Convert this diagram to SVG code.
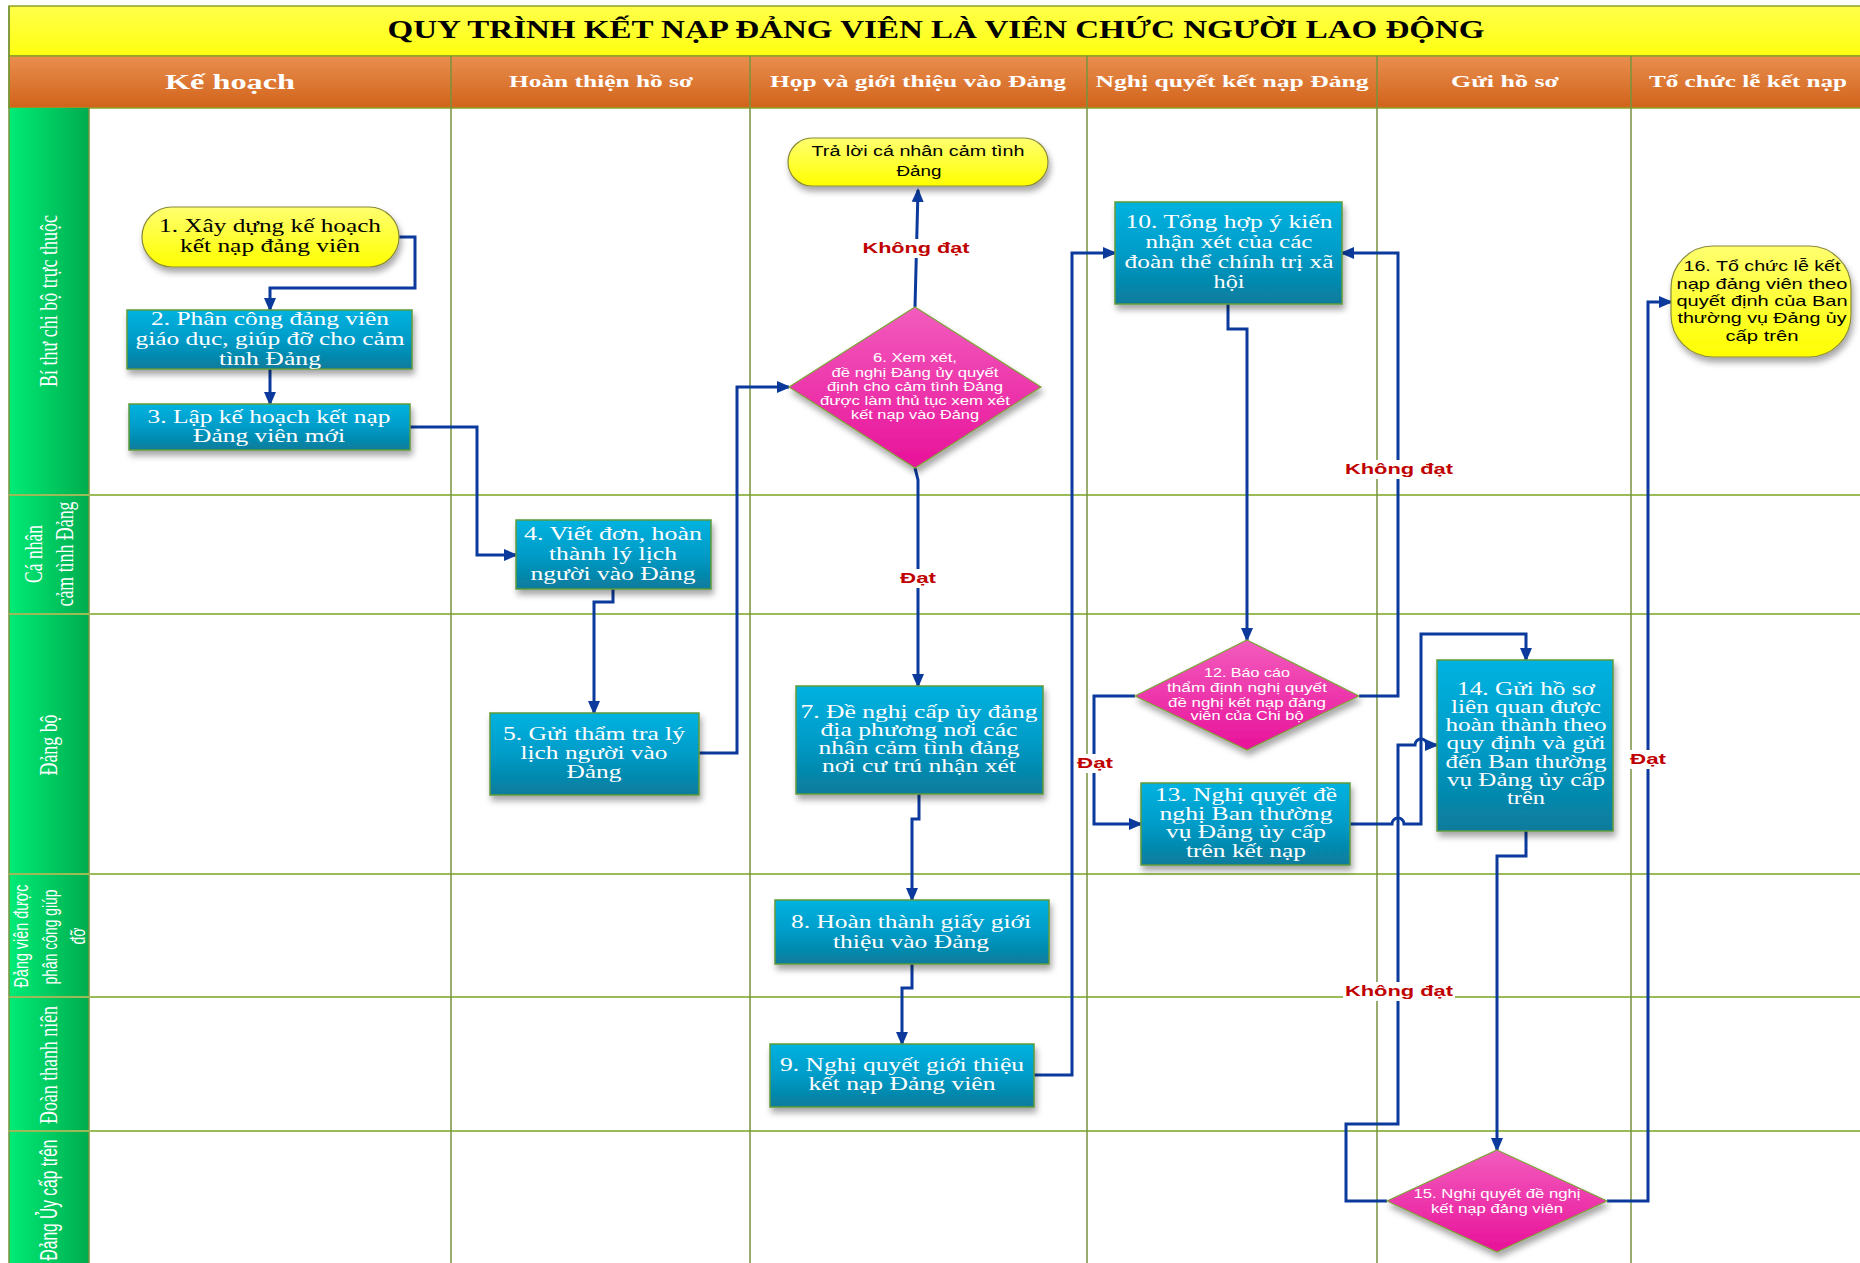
<svg xmlns="http://www.w3.org/2000/svg" width="1860" height="1263" viewBox="0 0 1860 1263">
<defs>
<linearGradient id="gTitle" x1="0" y1="0" x2="0" y2="1"><stop offset="0" stop-color="#FFFF4A"/><stop offset="1" stop-color="#FFFF10"/></linearGradient>
<linearGradient id="gHead" x1="0" y1="0" x2="0" y2="1"><stop offset="0" stop-color="#E98E4E"/><stop offset="1" stop-color="#D1631B"/></linearGradient>
<linearGradient id="gLane" x1="0" y1="0" x2="1" y2="0"><stop offset="0" stop-color="#00EC76"/><stop offset="1" stop-color="#00AC4E"/></linearGradient>
<linearGradient id="gBlue" x1="0" y1="0" x2="0" y2="1"><stop offset="0" stop-color="#00B2E0"/><stop offset="0.5" stop-color="#039CC8"/><stop offset="1" stop-color="#087B9B"/></linearGradient>
<linearGradient id="gPink" x1="0" y1="0" x2="0" y2="1"><stop offset="0" stop-color="#F35CBE"/><stop offset="1" stop-color="#E8129A"/></linearGradient>
<linearGradient id="gYel" x1="0" y1="0" x2="0" y2="1"><stop offset="0" stop-color="#FFFF70"/><stop offset="1" stop-color="#FFFF00"/></linearGradient>
<filter id="sh" x="-10%" y="-10%" width="130%" height="140%"><feDropShadow dx="2" dy="5" stdDeviation="3" flood-color="#000" flood-opacity="0.35"/></filter>
<marker id="ah" markerUnits="userSpaceOnUse" markerWidth="14" markerHeight="14" viewBox="0 0 14 14" refX="12" refY="7" orient="auto"><path d="M0,1 L14,7 L0,13 z" fill="#0B3A9C"/></marker>
</defs>
<style>
.grid-h{stroke:#9BBB59;stroke-width:2}
.grid-v{stroke:#77933C;stroke-width:1.5}
.conn{fill:none;stroke:#0B3A9C;stroke-width:3;stroke-linejoin:miter}
.box{fill:url(#gBlue);stroke:#5E9A3A;stroke-width:1.5;filter:url(#sh)}
.dia{fill:url(#gPink);stroke:#7FA23A;stroke-width:1.2;filter:url(#sh)}
.yel{fill:url(#gYel);stroke:#8A8A3C;stroke-width:1.2;filter:url(#sh)}
.bt{font-family:"Liberation Serif",serif;font-size:19px;fill:#fff;text-anchor:middle}
.bk{font-family:"Liberation Serif",serif;font-size:19px;fill:#000;text-anchor:middle}
.dt{font-family:"Liberation Sans",sans-serif;font-size:12px;fill:#fff;text-anchor:middle}
.yt{font-family:"Liberation Sans",sans-serif;font-size:14px;fill:#000;text-anchor:middle}
.lbl{font-family:"Liberation Sans",sans-serif;font-weight:bold;font-size:14px;fill:#C00000;text-anchor:middle}
.lane{font-family:"Liberation Serif",serif;font-size:26px;fill:#fff;text-anchor:middle}
.lanes{font-family:"Liberation Sans",sans-serif;fill:#fff;text-anchor:middle}
.head{font-family:"Liberation Serif",serif;font-weight:bold;font-size:16px;fill:#fff;text-anchor:middle}
</style>
<rect x="0" y="0" width="1860" height="1263" fill="#fff"/>

<g id="title">
<rect x="9" y="6" width="1860" height="50" fill="url(#gTitle)" stroke="#8DA028" stroke-width="1.5"/>
<text x="936" y="38" font-family="Liberation Serif, serif" font-weight="bold" font-size="26" text-anchor="middle" textLength="1097" lengthAdjust="spacingAndGlyphs">QUY TRÌNH KẾT NẠP ĐẢNG VIÊN LÀ VIÊN CHỨC NGƯỜI LAO ĐỘNG</text>
</g>

<g id="header">
<rect x="9" y="56" width="1860" height="52" fill="url(#gHead)" stroke="#8DA028" stroke-width="1.5"/>
<text class="head" x="230" y="89" style="font-size:21px" textLength="130" lengthAdjust="spacingAndGlyphs">Kế hoạch</text>
<text class="head" x="601" y="87" textLength="184" lengthAdjust="spacingAndGlyphs">Hoàn thiện hồ sơ</text>
<text class="head" x="918" y="87" textLength="296" lengthAdjust="spacingAndGlyphs">Họp và giới thiệu vào Đảng</text>
<text class="head" x="1232" y="87" textLength="273" lengthAdjust="spacingAndGlyphs">Nghị quyết kết nạp Đảng</text>
<text class="head" x="1505" y="87" textLength="108" lengthAdjust="spacingAndGlyphs">Gửi hồ sơ</text>
<text class="head" x="1748" y="87" textLength="198" lengthAdjust="spacingAndGlyphs">Tổ chức lễ kết nạp</text>
</g>

<g id="lanes">
<rect x="9" y="108" width="80" height="1160" fill="url(#gLane)"/>
<line x1="9" y1="6" x2="9" y2="1263" class="grid-v" stroke-width="2"/>
<line x1="89" y1="108" x2="89" y2="1263" class="grid-v" stroke-width="2"/>
<line x1="9" y1="495" x2="1860" y2="495" class="grid-h"/>
<line x1="9" y1="614" x2="1860" y2="614" class="grid-h"/>
<line x1="9" y1="874" x2="1860" y2="874" class="grid-h"/>
<line x1="9" y1="997" x2="1860" y2="997" class="grid-h"/>
<line x1="9" y1="1131" x2="1860" y2="1131" class="grid-h"/>
<line x1="451" y1="56" x2="451" y2="1263" class="grid-v"/>
<line x1="750" y1="56" x2="750" y2="1263" class="grid-v"/>
<line x1="1087" y1="56" x2="1087" y2="1263" class="grid-v"/>
<line x1="1377" y1="56" x2="1377" y2="1263" class="grid-v"/>
<line x1="1631" y1="56" x2="1631" y2="1263" class="grid-v"/>
<text class="lane" transform="translate(57,301) rotate(-90)" textLength="172" lengthAdjust="spacingAndGlyphs">Bí thư chi bộ trực thuộc</text>
<text class="lane" transform="translate(42,554) rotate(-90)" textLength="58" lengthAdjust="spacingAndGlyphs">Cá nhân</text>
<text class="lane" transform="translate(73,554) rotate(-90)" textLength="105" lengthAdjust="spacingAndGlyphs">cảm tình Đảng</text>
<text class="lane" transform="translate(57,745) rotate(-90)" textLength="61" lengthAdjust="spacingAndGlyphs">Đảng bộ</text>
<text class="lanes" style="font-size:20px" transform="translate(28,936) rotate(-90)" textLength="103" lengthAdjust="spacingAndGlyphs">Đảng viên được</text>
<text class="lanes" style="font-size:20px" transform="translate(57,937) rotate(-90)" textLength="95" lengthAdjust="spacingAndGlyphs">phân công giúp</text>
<text class="lanes" style="font-size:20px" transform="translate(85,936) rotate(-90)" textLength="17" lengthAdjust="spacingAndGlyphs">đỡ</text>
<text class="lane" transform="translate(57,1065) rotate(-90)" textLength="118" lengthAdjust="spacingAndGlyphs">Đoàn thanh niên</text>
<text class="lanes" style="font-size:23px" transform="translate(57,1200) rotate(-90)" textLength="121" lengthAdjust="spacingAndGlyphs">Đảng Ủy cấp trên</text>
</g>

<g id="connectors">
<path class="conn" marker-end="url(#ah)" d="M399,237 H415 V288 H270 V310"/>
<path class="conn" marker-end="url(#ah)" d="M270,369 V404"/>
<path class="conn" marker-end="url(#ah)" d="M410,427 H477 V555 H516"/>
<path class="conn" marker-end="url(#ah)" d="M613,589 V602 H594 V713"/>
<path class="conn" marker-end="url(#ah)" d="M699,753 H737 V387 H789"/>
<path class="conn" marker-end="url(#ah)" d="M915,307 L918,190"/>
<path class="conn" marker-end="url(#ah)" d="M915,468 L918,480 V686"/>
<path class="conn" marker-end="url(#ah)" d="M919,794 V819 H912 V900"/>
<path class="conn" marker-end="url(#ah)" d="M912,964 V988 H902 V1044"/>
<path class="conn" marker-end="url(#ah)" d="M1034,1075 H1072 V253 H1115"/>
<path class="conn" marker-end="url(#ah)" d="M1228,304 V329 H1247 V640"/>
<path class="conn" marker-end="url(#ah)" d="M1359,696 H1398 V253 H1342"/>
<path class="conn" marker-end="url(#ah)" d="M1135,696 H1094 V824 H1141"/>
<path class="conn" marker-end="url(#ah)" d="M1350,824 H1392 A6,6 0 0 1 1404,824 H1421 V634 H1526 V660"/>
<path class="conn" marker-end="url(#ah)" d="M1387,1201 H1346 V1124 H1398 V745 H1415 A6,6 0 0 1 1427,745 H1437"/>
<path class="conn" marker-end="url(#ah)" d="M1526,831 V856 H1497 V1150"/>
<path class="conn" marker-end="url(#ah)" d="M1607,1201 H1648 V302 H1671"/>
</g>

<g id="labels">
<rect x="861" y="239" width="111" height="19" fill="#fff"/>
<text class="lbl" x="916" y="253" textLength="107" lengthAdjust="spacingAndGlyphs">Không đạt</text>
<rect x="899" y="569" width="40" height="19" fill="#fff"/>
<text class="lbl" x="918" y="583" textLength="36" lengthAdjust="spacingAndGlyphs">Đạt</text>
<rect x="1343" y="460" width="112" height="19" fill="#fff"/>
<text class="lbl" x="1399" y="474" textLength="108" lengthAdjust="spacingAndGlyphs">Không đạt</text>
<rect x="1075" y="754" width="40" height="19" fill="#fff"/>
<text class="lbl" x="1095" y="768" textLength="36" lengthAdjust="spacingAndGlyphs">Đạt</text>
<rect x="1343" y="982" width="112" height="19" fill="#fff"/>
<text class="lbl" x="1399" y="996" textLength="108" lengthAdjust="spacingAndGlyphs">Không đạt</text>
<rect x="1628" y="750" width="40" height="19" fill="#fff"/>
<text class="lbl" x="1648" y="764" textLength="36" lengthAdjust="spacingAndGlyphs">Đạt</text>
</g>

<g id="n1">
<rect class="yel" x="142" y="207" width="257" height="60" rx="30"/>
<text class="bk" x="270" y="232" textLength="222" lengthAdjust="spacingAndGlyphs">1. Xây dựng kế hoạch</text>
<text class="bk" x="270" y="252" textLength="180" lengthAdjust="spacingAndGlyphs">kết nạp đảng viên</text>
</g>
<g id="n2">
<rect class="box" x="127" y="310" width="285" height="59"/>
<text class="bt" x="270" y="325" textLength="238" lengthAdjust="spacingAndGlyphs">2. Phân công đảng viên</text>
<text class="bt" x="270" y="345" textLength="269" lengthAdjust="spacingAndGlyphs">giáo dục, giúp đỡ cho cảm</text>
<text class="bt" x="270" y="365" textLength="102" lengthAdjust="spacingAndGlyphs">tình Đảng</text>
</g>
<g id="n3">
<rect class="box" x="129" y="404" width="281" height="46"/>
<text class="bt" x="269" y="423" textLength="243" lengthAdjust="spacingAndGlyphs">3. Lập kế hoạch kết nạp</text>
<text class="bt" x="269" y="442" textLength="152" lengthAdjust="spacingAndGlyphs">Đảng viên mới</text>
</g>
<g id="n4">
<rect class="box" x="516" y="520" width="195" height="69"/>
<text class="bt" x="613" y="540" textLength="178" lengthAdjust="spacingAndGlyphs">4. Viết đơn, hoàn</text>
<text class="bt" x="613" y="560" textLength="128" lengthAdjust="spacingAndGlyphs">thành lý lịch</text>
<text class="bt" x="613" y="580" textLength="165" lengthAdjust="spacingAndGlyphs">người vào Đảng</text>
</g>
<g id="n5">
<rect class="box" x="490" y="713" width="209" height="82"/>
<text class="bt" x="594" y="740" textLength="182" lengthAdjust="spacingAndGlyphs">5. Gửi thẩm tra lý</text>
<text class="bt" x="594" y="759" textLength="147" lengthAdjust="spacingAndGlyphs">lịch người vào</text>
<text class="bt" x="594" y="778" textLength="55" lengthAdjust="spacingAndGlyphs">Đảng</text>
</g>
<g id="reply">
<rect class="yel" x="788" y="138" width="260" height="48" rx="24"/>
<text class="yt" x="918" y="156" textLength="213" lengthAdjust="spacingAndGlyphs">Trả lời cá nhân cảm tình</text>
<text class="yt" x="919" y="176" textLength="45" lengthAdjust="spacingAndGlyphs">Đảng</text>
</g>
<g id="d6">
<polygon class="dia" points="915,307 1041,387 915,468 789,387"/>
<text class="dt" x="915" y="362" textLength="84" lengthAdjust="spacingAndGlyphs">6. Xem xét,</text>
<text class="dt" x="915" y="377" textLength="167" lengthAdjust="spacingAndGlyphs">đề nghị Đảng ủy quyết</text>
<text class="dt" x="915" y="391" textLength="176" lengthAdjust="spacingAndGlyphs">định cho cảm tình Đảng</text>
<text class="dt" x="915" y="405" textLength="190" lengthAdjust="spacingAndGlyphs">được làm thủ tục xem xét</text>
<text class="dt" x="915" y="419" textLength="128" lengthAdjust="spacingAndGlyphs">kết nạp vào Đảng</text>
</g>
<g id="n7">
<rect class="box" x="796" y="686" width="247" height="108"/>
<text class="bt" x="919" y="718" textLength="237" lengthAdjust="spacingAndGlyphs">7. Đề nghị cấp ủy đảng</text>
<text class="bt" x="919" y="736" textLength="197" lengthAdjust="spacingAndGlyphs">địa phương nơi các</text>
<text class="bt" x="919" y="754" textLength="201" lengthAdjust="spacingAndGlyphs">nhân cảm tình đảng</text>
<text class="bt" x="919" y="772" textLength="194" lengthAdjust="spacingAndGlyphs">nơi cư trú nhận xét</text>
</g>
<g id="n8">
<rect class="box" x="775" y="900" width="274" height="64"/>
<text class="bt" x="911" y="928" textLength="240" lengthAdjust="spacingAndGlyphs">8. Hoàn thành giấy giới</text>
<text class="bt" x="911" y="948" textLength="156" lengthAdjust="spacingAndGlyphs">thiệu vào Đảng</text>
</g>
<g id="n9">
<rect class="box" x="770" y="1044" width="264" height="63"/>
<text class="bt" x="902" y="1071" textLength="244" lengthAdjust="spacingAndGlyphs">9. Nghị quyết giới thiệu</text>
<text class="bt" x="902" y="1090" textLength="187" lengthAdjust="spacingAndGlyphs">kết nạp Đảng viên</text>
</g>
<g id="n10">
<rect class="box" x="1115" y="202" width="227" height="102"/>
<text class="bt" x="1229" y="228" textLength="207" lengthAdjust="spacingAndGlyphs">10. Tổng hợp ý kiến</text>
<text class="bt" x="1229" y="248" textLength="167" lengthAdjust="spacingAndGlyphs">nhận xét của các</text>
<text class="bt" x="1229" y="268" textLength="209" lengthAdjust="spacingAndGlyphs">đoàn thể chính trị xã</text>
<text class="bt" x="1229" y="288" textLength="31" lengthAdjust="spacingAndGlyphs">hội</text>
</g>
<g id="d12">
<polygon class="dia" points="1247,640 1359,696 1247,750 1135,696"/>
<text class="dt" x="1247" y="677" textLength="86" lengthAdjust="spacingAndGlyphs">12. Báo cáo</text>
<text class="dt" x="1247" y="692" textLength="160" lengthAdjust="spacingAndGlyphs">thẩm định nghị quyết</text>
<text class="dt" x="1247" y="707" textLength="158" lengthAdjust="spacingAndGlyphs">đề nghị kết nạp đảng</text>
<text class="dt" x="1247" y="720" textLength="113" lengthAdjust="spacingAndGlyphs">viên của Chi bộ</text>
</g>
<g id="n13">
<rect class="box" x="1141" y="783" width="209" height="82"/>
<text class="bt" x="1246" y="801" textLength="182" lengthAdjust="spacingAndGlyphs">13. Nghị quyết đề</text>
<text class="bt" x="1246" y="820" textLength="173" lengthAdjust="spacingAndGlyphs">nghị Ban thường</text>
<text class="bt" x="1246" y="838" textLength="160" lengthAdjust="spacingAndGlyphs">vụ Đảng ủy cấp</text>
<text class="bt" x="1246" y="857" textLength="120" lengthAdjust="spacingAndGlyphs">trên kết nạp</text>
</g>
<g id="n14">
<rect class="box" x="1437" y="660" width="176" height="171"/>
<text class="bt" x="1526" y="695" textLength="138" lengthAdjust="spacingAndGlyphs">14. Gửi hồ sơ</text>
<text class="bt" x="1526" y="713" textLength="150" lengthAdjust="spacingAndGlyphs">liên quan được</text>
<text class="bt" x="1526" y="731" textLength="161" lengthAdjust="spacingAndGlyphs">hoàn thành theo</text>
<text class="bt" x="1526" y="749" textLength="159" lengthAdjust="spacingAndGlyphs">quy định và gửi</text>
<text class="bt" x="1526" y="768" textLength="161" lengthAdjust="spacingAndGlyphs">đến Ban thường</text>
<text class="bt" x="1526" y="786" textLength="158" lengthAdjust="spacingAndGlyphs">vụ Đảng ủy cấp</text>
<text class="bt" x="1526" y="804" textLength="38" lengthAdjust="spacingAndGlyphs">trên</text>
</g>
<g id="d15">
<polygon class="dia" points="1497,1150 1607,1201 1497,1252 1387,1201"/>
<text class="dt" x="1497" y="1198" style="font-size:13px" textLength="167" lengthAdjust="spacingAndGlyphs">15. Nghị quyết đề nghị</text>
<text class="dt" x="1497" y="1213" style="font-size:13px" textLength="132" lengthAdjust="spacingAndGlyphs">kết nạp đảng viên</text>
</g>
<g id="n16">
<rect class="yel" x="1671" y="246" width="180" height="111" rx="42" ry="42"/>
<text class="yt" x="1762" y="271" style="font-size:15px" textLength="157" lengthAdjust="spacingAndGlyphs">16. Tổ chức lễ kết</text>
<text class="yt" x="1762" y="289" style="font-size:15px" textLength="171" lengthAdjust="spacingAndGlyphs">nạp đảng viên theo</text>
<text class="yt" x="1762" y="306" style="font-size:15px" textLength="171" lengthAdjust="spacingAndGlyphs">quyết định của Ban</text>
<text class="yt" x="1762" y="323" style="font-size:15px" textLength="169" lengthAdjust="spacingAndGlyphs">thường vụ Đảng ủy</text>
<text class="yt" x="1762" y="341" style="font-size:15px" textLength="73" lengthAdjust="spacingAndGlyphs">cấp trên</text>
</g>
</svg>
